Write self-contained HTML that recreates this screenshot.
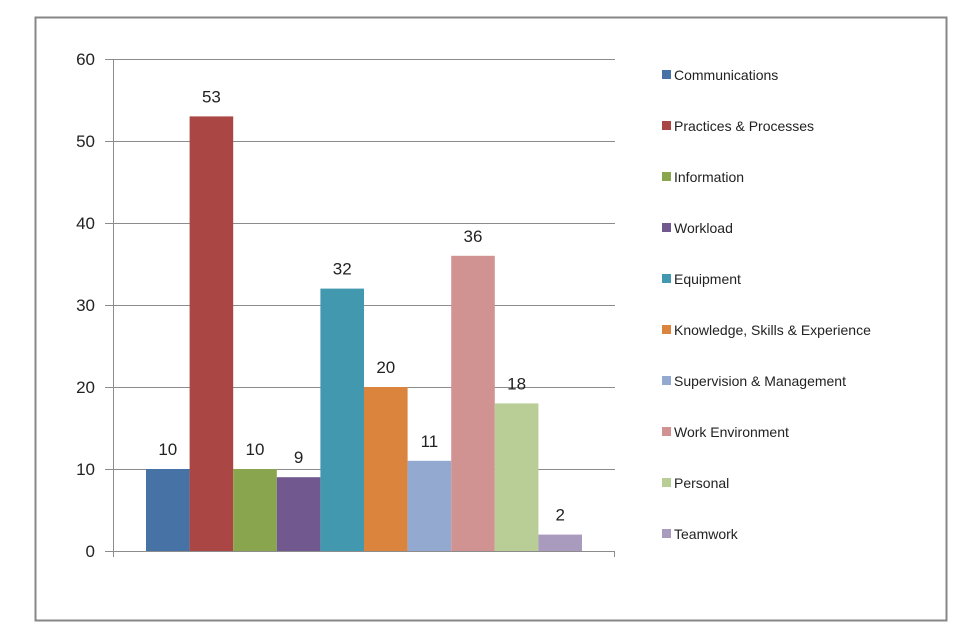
<!DOCTYPE html>
<html><head><meta charset="utf-8"><style>
body{margin:0;background:#fff;}
svg{display:block;font-family:"Liberation Sans",Arial,sans-serif;}
</style></head><body>
<svg id="chart" width="964" height="643" viewBox="0 0 964 643" xmlns="http://www.w3.org/2000/svg">
<rect x="35.5" y="17.5" width="911" height="603" fill="#fff" stroke="#878787" stroke-width="2"/>
<g id="grid"></g><g id="bars"></g><g id="labels"></g><g id="legend"></g>
</svg>
<script>
const categories=["Communications","Practices & Processes","Information","Workload","Equipment","Knowledge, Skills & Experience","Supervision & Management","Work Environment","Personal","Teamwork"];
const values=[10,53,10,9,32,20,11,36,18,2];
const yTicks=[0,10,20,30,40,50,60];
const colors=["#4672a5","#aa4744","#89a54e","#71588f","#4298af","#db843d","#93a9cf","#d19392","#b9cd96","#a99bbd"];
const NS="http://www.w3.org/2000/svg";
const x0=113,x1=615,yBase=551,yTop=59,yMax=60;
const y=v=>yBase-(yBase-yTop)*v/yMax;
const bw=43.6,bStart=x0+(x1-x0-bw*values.length)/2;
const xb=i=>bStart+i*bw;
function mk(t,a,p){const e=document.createElementNS(NS,t);for(const k in a)e.setAttribute(k,a[k]);p.appendChild(e);return e;}
const g=document.getElementById('grid');
yTicks.forEach(t=>{
  const l=mk('line',{x1:x0-8,x2:x1,y1:y(t)+.5,y2:y(t)+.5,stroke:'#8c8c8c','stroke-width':1},g);
  
  
  const tx=mk('text',{x:x0-18,y:y(t)+6,'text-anchor':'end','font-size':17,fill:'#222'},g);
  tx.textContent=t;
  
  
});
const ax=mk('line',{x1:x0+.5,x2:x0+.5,y1:yTop,y2:yBase+6,stroke:'#8c8c8c'},g);


const ax2=mk('line',{x1:x1-.5,x2:x1-.5,y1:yBase,y2:yBase+6,stroke:'#8c8c8c'},g);


const bg=document.getElementById('bars'),lg=document.getElementById('labels'),le=document.getElementById('legend');
values.forEach((v,i)=>{
  const r=mk('rect',{x:xb(i),y:y(v),width:bw,height:yBase-y(v),fill:colors[i]},bg);
  
  
  const t=mk('text',{x:xb(i)+bw/2,y:y(v)-14,'text-anchor':'middle','font-size':17,fill:'#222'},lg);
  t.textContent=v;
  
  
  const ly=75+i*51;
  const s=mk('rect',{x:662,y:ly-5,width:9,height:9,fill:colors[i]},le);
  
  
  const lt=mk('text',{x:674,y:ly+5,'font-size':14,fill:'#222'},le);
  lt.textContent=categories[i];
  
  
});
</script>
</body></html>
